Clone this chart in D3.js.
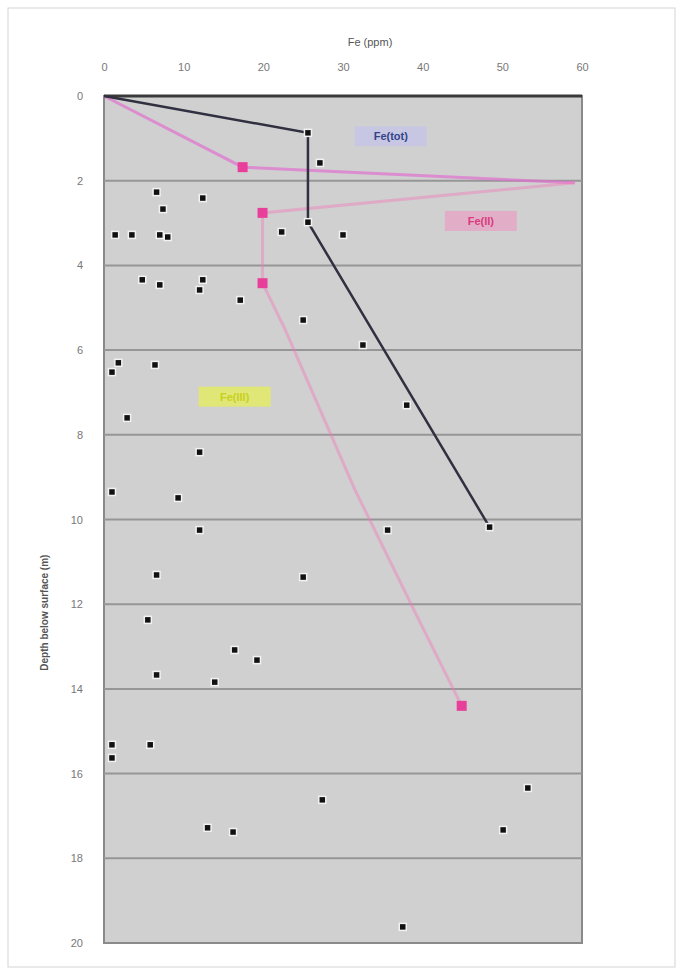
<!DOCTYPE html>
<html lang="en">
<head>
<meta charset="UTF-8">
<title>Fe profile</title>
<style>
  body { margin: 0; background: #fff; font-family: "Liberation Sans", Arial, sans-serif; }
</style>
</head>
<body>
<div id="chart"></div>
<script src="https://d3js.org/d3.v7.min.js"></script>
<script>
// measured values (x = Fe, y = depth)
var sampleFe = [27.1, 6.6, 7.4, 12.4, 1.4, 3.5, 7.0, 8.0, 22.3, 30.0, 4.8, 7.0, 12.4, 12.0, 17.1, 25.0,
  32.5, 1.8, 1.0, 6.4, 2.9, 38.0, 12.0, 1.0, 9.3, 12.0, 35.6, 6.6, 25.0, 5.5, 16.4, 19.2, 6.6, 13.9,
  1.0, 1.0, 5.8, 53.2, 27.4, 13.0, 16.2, 50.1, 37.5];
var sampleDepth = [1.58, 2.27, 2.67, 2.41, 3.28, 3.28, 3.28, 3.33, 3.21, 3.28, 4.34, 4.46, 4.34, 4.58, 4.82, 5.29,
  5.88, 6.30, 6.52, 6.35, 7.60, 7.30, 8.41, 9.35, 9.49, 10.25, 10.25, 11.31, 11.36, 12.37, 13.08, 13.32, 13.67, 13.84,
  15.32, 15.63, 15.32, 16.34, 16.62, 17.28, 17.38, 17.33, 19.62];

// model profile (black line)
var profileFe = [0, 25.6, 25.6, 48.4];
var profileDepth = [0, 0.87, 2.98, 10.18];

// magenta lines
var upperFe = [0, 17.4, 59.1];
var upperDepth = [0, 1.68, 2.05];
var lowerFe = [59.1, 19.9, 19.9, 22.7, 31.5, 39.6, 44.9];
var lowerDepth = [2.05, 2.76, 4.42, 5.5, 9.3, 12.4, 14.4];
var lowerMarks = [1, 2, 6];

var xTicks = [0, 10, 20, 30, 40, 50, 60];
var yTicks = [0, 2, 4, 6, 8, 10, 12, 14, 16, 18, 20];

var width = 683, height = 975;
var margin = {top: 96, right: 101, bottom: 32, left: 104};

var svg = d3.select("#chart").append("svg")
  .attr("width", width)
  .attr("height", height);

// outer frame
svg.append("rect")
  .attr("x", 8).attr("y", 8)
  .attr("width", width - 16).attr("height", height - 16)
  .attr("fill", "#fff").attr("stroke", "#d4d4d4");

var x = d3.scaleLinear().domain([0, 60]).range([margin.left, width - margin.right]);
var y = d3.scaleLinear().domain([0, 20]).range([margin.top, height - margin.bottom]);

// plot background
svg.append("rect")
  .attr("x", x(0)).attr("y", y(0))
  .attr("width", x(60) - x(0)).attr("height", y(20) - y(0))
  .attr("fill", "#d0d0d0")
  .attr("stroke", "#8a8a8a").attr("stroke-width", 2);

// grid
svg.append("g").selectAll("line")
  .data(yTicks.slice(1, -1))
  .enter().append("line")
  .attr("x1", x(0)).attr("x2", x(60))
  .attr("y1", function(d) { return y(d); })
  .attr("y2", function(d) { return y(d); })
  .attr("stroke", "#969696").attr("stroke-width", 2);

// axes
var xAxis = svg.append("g")
  .attr("transform", "translate(0," + (y(0) - 22) + ")")
  .call(d3.axisTop(x).tickValues(xTicks).tickSize(0));
xAxis.select(".domain").remove();
xAxis.selectAll("text").attr("font-size", 11).attr("fill", "#777");

var yAxis = svg.append("g")
  .attr("transform", "translate(" + (x(0) - 18) + ",0)")
  .call(d3.axisLeft(y).tickValues(yTicks).tickSize(0));
yAxis.select(".domain").remove();
yAxis.selectAll("text").attr("font-size", 11).attr("fill", "#777");

svg.append("text")
  .attr("x", 370).attr("y", 46)
  .attr("text-anchor", "middle")
  .attr("font-size", 11).attr("fill", "#555")
  .text("Fe (ppm)");

svg.append("text")
  .attr("transform", "translate(48," + y(12.2) + ") rotate(-90)")
  .attr("text-anchor", "middle")
  .attr("font-size", 10).attr("font-weight", "bold").attr("fill", "#555")
  .text("Depth below surface (m)");

var line = d3.line()
  .x(function(d) { return x(d[0]); })
  .y(function(d) { return y(d[1]); });

// top line at zero depth
svg.append("path")
  .datum([[0, 0], [60, 0]])
  .attr("d", line)
  .attr("fill", "none").attr("stroke", "#3a3a3a").attr("stroke-width", 3);

// pink / magenta lines
svg.append("path")
  .datum(upperFe.map(function(d, i) { return [d, upperDepth[i]]; }))
  .attr("d", line)
  .attr("fill", "none").attr("stroke", "#e070d0").attr("stroke-width", 3).attr("opacity", 0.7);

svg.append("path")
  .datum(lowerFe.map(function(d, i) { return [d, lowerDepth[i]]; }))
  .attr("d", line)
  .attr("fill", "none").attr("stroke", "#f07cb8").attr("stroke-width", 3).attr("opacity", 0.45);

svg.append("g").selectAll("rect")
  .data([1].map(function(i) { return [upperFe[i], upperDepth[i]]; })
    .concat(lowerMarks.map(function(i) { return [lowerFe[i], lowerDepth[i]]; })))
  .enter().append("rect")
  .attr("x", function(d) { return x(d[0]) - 5; })
  .attr("y", function(d) { return y(d[1]) - 5; })
  .attr("width", 10).attr("height", 10)
  .attr("fill", "#e8409a");

// profile line
svg.append("path")
  .datum(profileFe.map(function(d, i) { return [d, profileDepth[i]]; }))
  .attr("d", line)
  .attr("fill", "none").attr("stroke", "#303040").attr("stroke-width", 2.5);

// samples
svg.append("g").selectAll("rect")
  .data(sampleFe.map(function(d, i) { return [d, sampleDepth[i]]; })
    .concat(profileFe.slice(1).map(function(d, i) { return [d, profileDepth[i + 1]]; })))
  .enter().append("rect")
  .attr("x", function(d) { return x(d[0]) - 3.5; })
  .attr("y", function(d) { return y(d[1]) - 3.5; })
  .attr("width", 7).attr("height", 7)
  .attr("fill", "#111")
  .attr("stroke", "#f2f2f2").attr("stroke-width", 1.5);

// labels
function label(tx, ty, txt, fg, bg) {
  svg.append("rect")
    .attr("x", x(tx) - 36).attr("y", y(ty) - 10)
    .attr("width", 72).attr("height", 20)
    .attr("fill", bg).attr("opacity", 0.8);
  svg.append("text")
    .attr("x", x(tx)).attr("y", y(ty) + 4)
    .attr("text-anchor", "middle")
    .attr("font-size", 11).attr("font-weight", "bold").attr("fill", fg)
    .text(txt);
}
label(36, 0.95, "Fe(tot)", "#334488", "#c4c4e8");
label(47.3, 2.95, "Fe(II)", "#d83c80", "#e6a4c4");
label(16.4, 7.1, "Fe(III)", "#c8d020", "#e4ec60");
</script>
</body>
</html>
